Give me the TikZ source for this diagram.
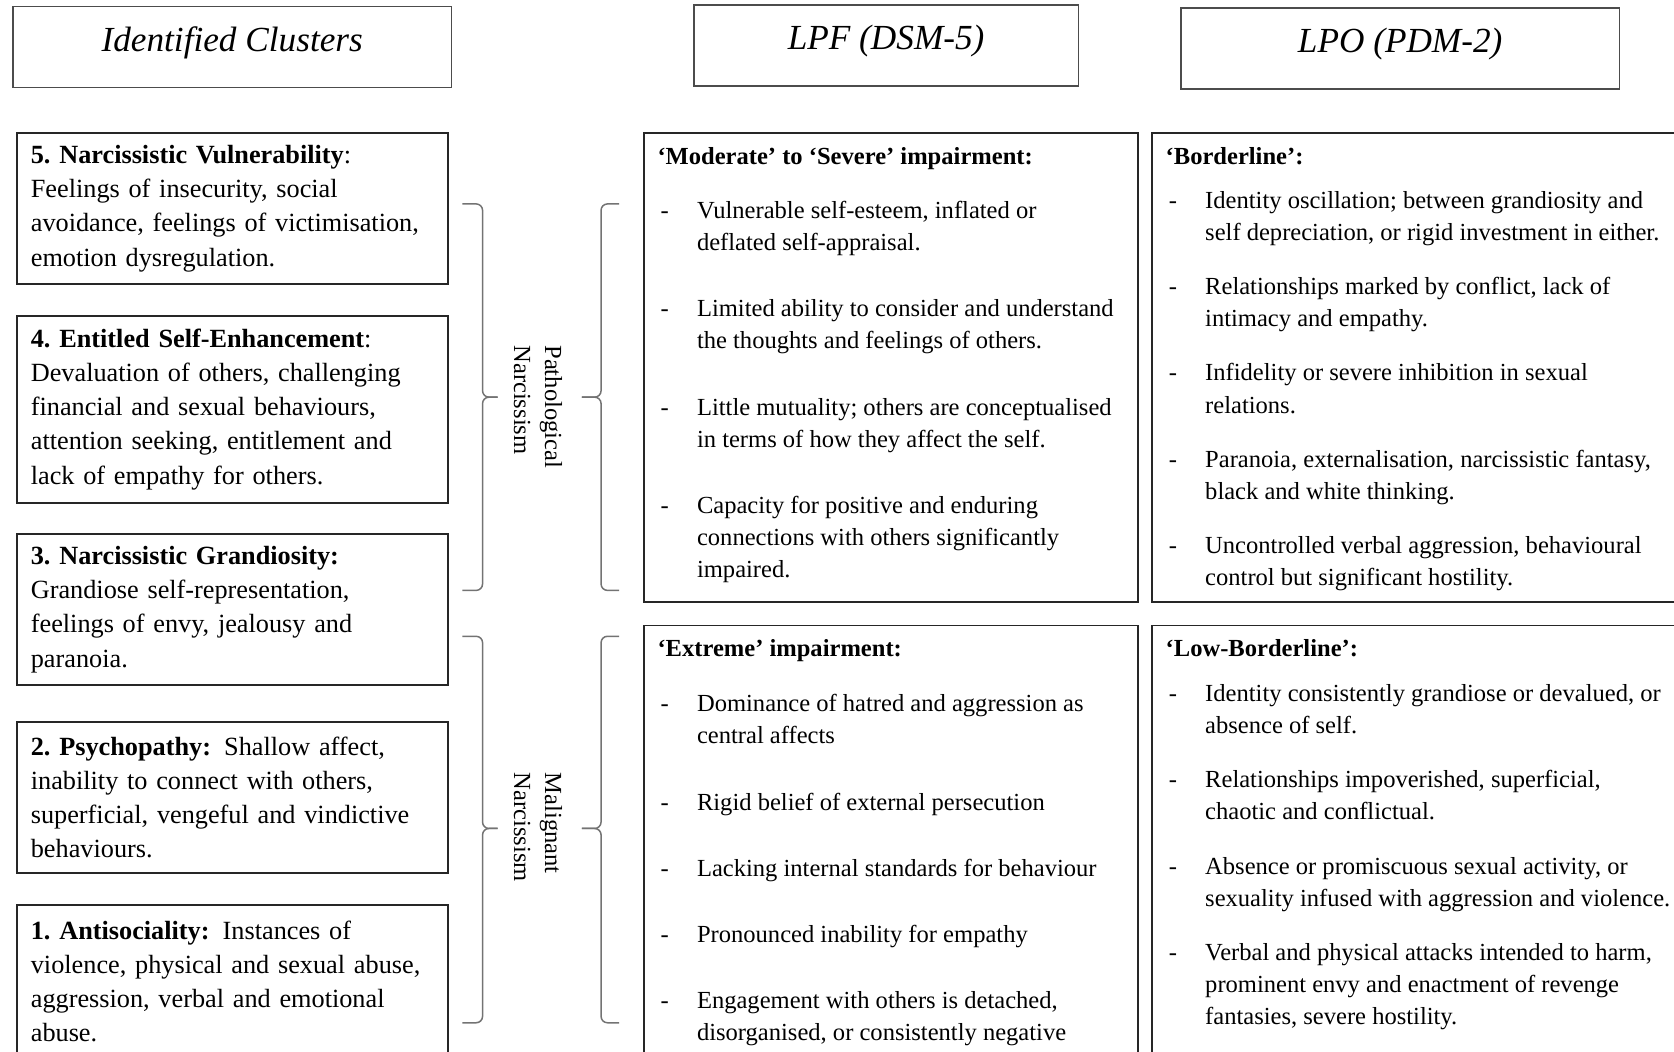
\documentclass[tikz,border=0pt]{standalone}
\usepackage{fontspec}
\setmainfont{Liberation Serif}

% one dash item of a panel, with hanging indent
\newcommand{\dashitem}[1]{%
    \hangindent=18.5pt\hangafter=1
    \noindent\makebox[18.5pt][l]{\hspace{1.5pt}-}#1\par\vspace{\itemgap}}
% panel body: width, height, item gap, heading gap, heading, items
\newcommand{\panelbody}[6]{%
    \begin{minipage}[t][#2][t]{#1}%
    \def\itemgap{#3}%
    \noindent\textbf{#5}\par\vspace{#4}%
    #6%
    \end{minipage}}

\begin{document}
\begin{tikzpicture}[x=0.5pt, y=-0.5pt]
    % Define styles
    \tikzset{
        header/.style={draw=black!70, line width=0.7pt, minimum height=38pt,
            text height=12pt, text depth=8pt, font=\itshape\fontsize{16.5}{20}\selectfont},
        cluster/.style={draw=black!85, line width=0.9pt, anchor=north west,
            text width=189pt, inner xsep=6.5pt, align=left, font=\fontsize{12.3}{16}\selectfont},
        panel/.style={draw=black!85, line width=0.9pt, anchor=north west,
            inner xsep=6.5pt, inner ysep=6.5pt, font=\fontsize{11.5}{15}\selectfont},
        bracket/.style={black!55, line width=0.7pt, rounded corners=3pt},
        grouplabel/.style={rotate=-90, align=left, font=\fontsize{11.5}{14.5}\selectfont}
    }

    % Page frame
    \useasboundingbox (0,0) rectangle (1568,985);
    \clip (0,0) rectangle (1568,985);

    % Draw column headers
    \node[header, minimum width=205.5pt] (clusters) at (217.5,44) {Identified Clusters};
    \node[header, minimum width=180pt] (lpf) at (830,42.5) {LPF (DSM-5)};
    \node[header, minimum width=205.5pt] (lpo) at (1311.5,45.5) {LPO (PDM-2)};

    % Draw cluster boxes
    \node[cluster, minimum height=70.5pt] (vuln) at (15,124)
        {\textbf{5.\ Narcissistic Vulnerability}:\\Feelings of insecurity, social\\avoidance, feelings of victimisation,\\emotion dysregulation.};
    \node[cluster, minimum height=87.5pt] (entitled) at (15,295)
        {\textbf{4.\ Entitled Self-Enhancement}:\\Devaluation of others, challenging\\financial and sexual behaviours,\\attention seeking, entitlement and\\lack of empathy for others.};
    \node[cluster, minimum height=71pt] (grand) at (15,499)
        {\textbf{3.\ Narcissistic Grandiosity:}\\Grandiose self-representation,\\feelings of envy, jealousy and\\paranoia.};
    \node[cluster, minimum height=71pt] (psycho) at (15,675)
        {\textbf{2.\ Psychopathy:} Shallow affect,\\inability to connect with others,\\superficial, vengeful and vindictive\\behaviours.};
    \node[cluster, minimum height=71.5pt] (antisoc) at (15,847)
        {\textbf{1.\ Antisociality:} Instances of\\violence, physical and sexual abuse,\\aggression, verbal and emotional\\abuse.};

    % Draw braces and group labels
    \foreach \ya/\ym/\yb in {191/372/553, 596/776/958} {
        \draw[bracket] (433,\ya) -- (452,\ya) -- (452,\ym) -- (466,\ym);
        \draw[bracket] (433,\yb) -- (452,\yb) -- (452,\ym) -- (466,\ym);
        \draw[bracket] (580,\ya) -- (563,\ya) -- (563,\ym) -- (545,\ym);
        \draw[bracket] (580,\yb) -- (563,\yb) -- (563,\ym) -- (545,\ym);
    }
    \node[grouplabel] (pathlabel) at (504,381) {Pathological\\Narcissism};
    \node[grouplabel] (maliglabel) at (504,775) {Malignant\\Narcissism};

    % Draw LPF panels
    \node[panel] (lpfmod) at (602,124) {\panelbody{218.5pt}{206.5pt}{16pt}{10.5pt}
        {‘Moderate’ to ‘Severe’ impairment:}{%
        \dashitem{Vulnerable self-esteem, inflated or\newline deflated self-appraisal.}
        \dashitem{Limited ability to consider and understand\newline the thoughts and feelings of others.}
        \dashitem{Little mutuality; others are conceptualised\newline in terms of how they affect the self.}
        \dashitem{Capacity for positive and enduring\newline connections with others significantly\newline impaired.}}};
    \node[panel] (lpfext) at (602,585) {\panelbody{218.5pt}{213pt}{16pt}{11pt}
        {‘Extreme’ impairment:}{%
        \dashitem{Dominance of hatred and aggression as\newline central affects}
        \dashitem{Rigid belief of external persecution}
        \dashitem{Lacking internal standards for behaviour}
        \dashitem{Pronounced inability for empathy}
        \dashitem{Engagement with others is detached,\newline disorganised, or consistently negative}}};

    % Draw LPO panels
    \node[panel] (lpobord) at (1078,124) {\panelbody{240pt}{206.5pt}{10.5pt}{5.5pt}
        {‘Borderline’:}{%
        \dashitem{Identity oscillation; between grandiosity and\newline self depreciation, or rigid investment in either.}
        \dashitem{Relationships marked by conflict, lack of\newline intimacy and empathy.}
        \dashitem{Infidelity or severe inhibition in sexual\newline relations.}
        \dashitem{Paranoia, externalisation, narcissistic fantasy,\newline black and white thinking.}
        \dashitem{Uncontrolled verbal aggression, behavioural\newline control but significant hostility.}}};
    \node[panel] (lpolow) at (1078,585) {\panelbody{240pt}{213pt}{10.5pt}{6pt}
        {‘Low-Borderline’:}{%
        \dashitem{Identity consistently grandiose or devalued, or\newline absence of self.}
        \dashitem{Relationships impoverished, superficial,\newline chaotic and conflictual.}
        \dashitem{Absence or promiscuous sexual activity, or\newline sexuality infused with aggression and violence.}
        \dashitem{Verbal and physical attacks intended to harm,\newline prominent envy and enactment of revenge\newline fantasies, severe hostility.}}};
\end{tikzpicture}
\end{document}
